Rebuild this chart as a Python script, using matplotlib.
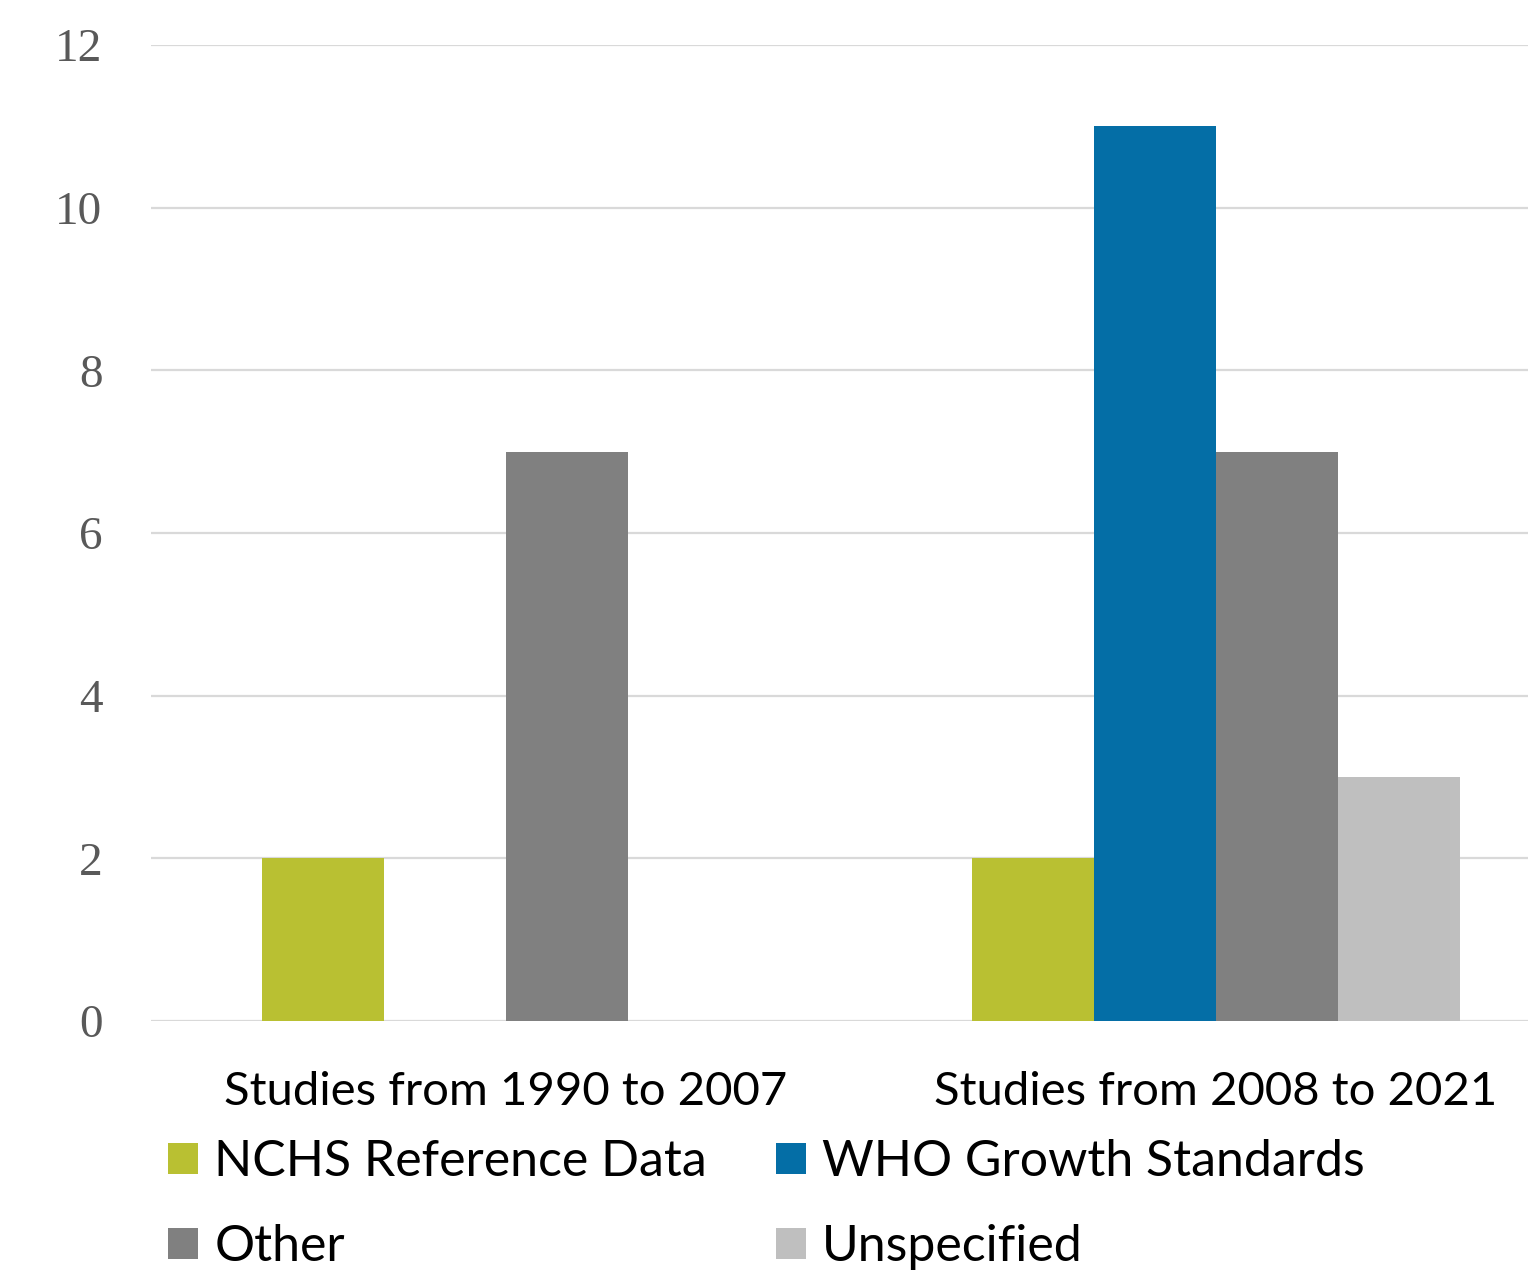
import matplotlib
matplotlib.use("Agg")
import matplotlib.pyplot as plt
import numpy as np

categories = ["Studies from 1990 to 2007", "Studies from 2008 to 2021"]
series_names = ["NCHS Reference Data", "WHO Growth Standards", "Other", "Unspecified"]
nchs = [2, 2]
who = [0, 11]
other = [7, 7]
unspecified = [0, 3]
colors = ["#b9c032", "#046ea6", "#808080", "#bfbfbf"]
y_ticks = [0, 2, 4, 6, 8, 10, 12]

sans = ["Lato", "DejaVu Sans"]
serif = ["Liberation Serif", "DejaVu Serif"]

fig = plt.figure(figsize=(15.28, 12.71), dpi=100)
ax = fig.add_axes([151 / 1528, 1 - 1021 / 1271, 1 - 151 / 1528, (1021 - 45) / 1271])

x = np.arange(len(categories))
width = 0.1718
values = [nchs, who, other, unspecified]
handles = []
for i, (name, vals, col) in enumerate(zip(series_names, values, colors)):
    h = ax.bar(x + (i - 1.5) * width, vals, width, color=col, label=name, zorder=3)
    handles.append(h)

ax.set_ylim(0, 12)
ax.set_xlim(-0.5, 1.4394)
ax.set_yticks(y_ticks)
ax.set_xticks(x)
ax.set_xticklabels(categories, fontfamily=sans, fontsize=34, color="black")
for lbl in ax.get_yticklabels():
    lbl.set_fontfamily(serif)
    lbl.set_fontsize(34)
    lbl.set_color("#595959")
ax.tick_params(axis="y", length=0, pad=35)
ax.tick_params(axis="x", length=0, pad=36)
ax.grid(axis="y", color="#d9d9d9", linewidth=1.6, zorder=0)
for s in ax.spines.values():
    s.set_visible(False)

# legend fills column by column, so reorder to get rows NCHS/WHO, Other/Unspecified
order = [0, 2, 1, 3]
leg = fig.legend(handles=[handles[i] for i in order],
                 labels=[series_names[i] for i in order], ncol=2,
                 loc="upper left", bbox_to_anchor=(168 / 1528, 1 - 1139 / 1271),
                 frameon=False, prop={"family": sans, "size": 36},
                 handlelength=0.6, handleheight=0.6, handletextpad=0.33,
                 columnspacing=1.37, labelspacing=0.78, borderpad=0,
                 borderaxespad=0)

fig.savefig("out.png", dpi=100)
